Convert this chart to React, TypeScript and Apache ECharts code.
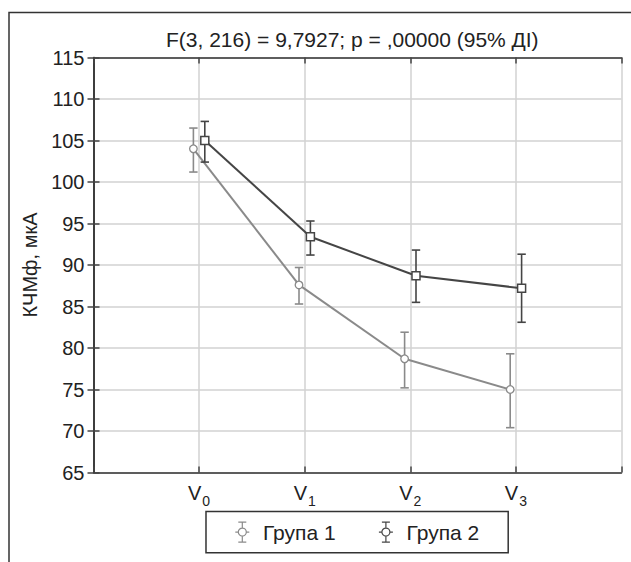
import React, { useEffect, useRef } from "react";
import * as echarts from "echarts";

// ---- data ----
const stages = ["0", "1", "2", "3"]; // subscripts of V
const groupNames = ["Група 1", "Група 2"];
const g1Mean = [104.0, 87.6, 78.7, 75.0];
const g1Low = [101.2, 85.3, 75.2, 70.4];
const g1High = [106.5, 89.7, 81.9, 79.3];
const g2Mean = [105.0, 93.4, 88.7, 87.2];
const g2Low = [102.4, 91.2, 85.5, 83.1];
const g2High = [107.3, 95.3, 91.8, 91.3];
const yTicks = { min: 65, max: 115, step: 5 };
const titleText = "F(3, 216) = 9,7927; p = ,00000 (95% ДІ)";
const yName = "КЧМф, мкА";

const C1 = "#8a8a8a";
const C2 = "#454545";
const FONT = "'Liberation Sans', Arial, Helvetica, sans-serif";

const iconPath =
  "path://M3,0 H11 M7,0 V6 M11,10 A4,4 0 1,1 3,10 A4,4 0 1,1 11,10 M0,10 H3 M11,10 H14 M7,14 V20 M3,20 H11";

function makeSeries(name: string, mean: number[], low: number[], high: number[], color: string, dx: number, square: boolean) {
  const data = mean.map((m, i) => [i + 1, m, low[i], high[i]]);
  return {
    type: "custom",
    name,
    itemStyle: { color },
    clip: false,
    data,
    encode: { x: 0, y: [1, 2, 3] },
    renderItem: (params: any, api: any) => {
      const idx = params.dataIndex;
      const x = api.value(0);
      const m = api.value(1);
      const p = api.coord([x, m]);
      const pl = api.coord([x, api.value(2)]);
      const ph = api.coord([x, api.value(3)]);
      const cx = p[0] + dx;
      const children: any[] = [];
      if (idx + 1 < mean.length) {
        const q = api.coord([x + 1, mean[idx + 1]]);
        children.push({
          type: "line",
          shape: { x1: cx, y1: p[1], x2: q[0] + dx, y2: q[1] },
          style: { stroke: color, lineWidth: 2 },
        });
      }
      const cap = 4.2;
      children.push({
        type: "line",
        shape: { x1: cx, y1: ph[1], x2: cx, y2: pl[1] },
        style: { stroke: color, lineWidth: 1.6 },
      });
      children.push({
        type: "line",
        shape: { x1: cx - cap, y1: ph[1], x2: cx + cap, y2: ph[1] },
        style: { stroke: color, lineWidth: 1.6 },
      });
      children.push({
        type: "line",
        shape: { x1: cx - cap, y1: pl[1], x2: cx + cap, y2: pl[1] },
        style: { stroke: color, lineWidth: 1.6 },
      });
      if (square) {
        children.push({
          type: "rect",
          shape: { x: cx - 4, y: p[1] - 4, width: 8, height: 8 },
          style: { fill: "#fff", stroke: color, lineWidth: 1.5 },
        });
      } else {
        children.push({
          type: "circle",
          shape: { cx, cy: p[1], r: 3.8 },
          style: { fill: "#fff", stroke: color, lineWidth: 1.3 },
        });
      }
      return { type: "group", children };
    },
  };
}

export default function App() {
  const ref = useRef<HTMLDivElement>(null);
  useEffect(() => {
    if (!ref.current) return;
    const chart = echarts.init(ref.current, undefined, { renderer: "svg" });
    const axisLine = { show: true, lineStyle: { color: "#333", width: 1.5 } };
    const tick = { show: true, inside: true, length: 6, lineStyle: { color: "#444", width: 1.5 } };
    const split = { show: true, lineStyle: { color: "#d2d2d2", width: 1.5 } };
    chart.setOption({
      animation: false,
      backgroundColor: "#fff",
      textStyle: { fontFamily: FONT },
      title: {
        text: titleText,
        left: 166,
        top: 29,
        padding: 0,
        textStyle: { fontFamily: FONT, fontSize: 21, fontWeight: "normal", color: "#222" },
      },
      graphic: [
        {
          type: "polyline",
          shape: { points: [[9, 562], [9, 12.5], [631, 12.5]] },
          style: { stroke: "#333", lineWidth: 1.5, fill: "none" },
          silent: true,
        },
      ],
      grid: { left: 93.5, top: 57.5, right: 9.5, bottom: 89.5, show: false },
      legend: {
        left: 206,
        top: 511.5,
        orient: "horizontal",
        borderColor: "#333",
        borderWidth: 1.5,
        padding: [10, 29, 10, 28.7],
        itemGap: 42.7,
        itemWidth: 14,
        itemHeight: 20,
        textStyle: { fontFamily: FONT, fontSize: 21, color: "#222", padding: [0, 0, 0, 8.6] },
        data: [
          { name: groupNames[0], icon: iconPath, itemStyle: { color: "#fff", borderColor: C1, borderWidth: 1.2 } },
          { name: groupNames[1], icon: iconPath, itemStyle: { color: "#fff", borderColor: C2, borderWidth: 1.2 } },
        ],
      },
      xAxis: [
        {
          type: "value",
          min: 0,
          max: stages.length + 1,
          interval: 1,
          axisLine,
          axisTick: tick,
          splitLine: split,
          axisLabel: {
            margin: 10,
            formatter: (v: number) => {
              const i = Math.round(v) - 1;
              return i >= 0 && i < stages.length ? `{v|V}{s|${stages[i]}}` : "";
            },
            rich: {
              v: { fontFamily: FONT, fontSize: 20, color: "#222", verticalAlign: "bottom" },
              s: { fontFamily: FONT, fontSize: 14, color: "#222", verticalAlign: "bottom", padding: [0, 0, -5, 1] },
            },
          },
        },
        {
          type: "value",
          position: "top",
          min: 0,
          max: stages.length + 1,
          interval: 1,
          axisLine,
          axisTick: tick,
          splitLine: { show: false },
          axisLabel: { show: false },
        },
      ],
      yAxis: [
        {
          type: "value",
          min: yTicks.min,
          max: yTicks.max,
          interval: yTicks.step,
          axisLine,
          axisTick: tick,
          splitLine: split,
          name: yName,
          nameLocation: "middle",
          nameGap: 48,
          nameTextStyle: { fontFamily: FONT, fontSize: 20, color: "#222" },
          axisLabel: { fontFamily: FONT, fontSize: 20, color: "#222", margin: 9 },
        },
        {
          type: "value",
          position: "right",
          min: yTicks.min,
          max: yTicks.max,
          interval: yTicks.step,
          axisLine,
          axisTick: tick,
          splitLine: { show: false },
          axisLabel: { show: false },
        },
      ],
      series: [
        makeSeries(groupNames[0], g1Mean, g1Low, g1High, C1, -5.7, false),
        makeSeries(groupNames[1], g2Mean, g2Low, g2High, C2, 5.7, true),
      ],
    });
    return () => chart.dispose();
  }, []);
  return (
    <div
      ref={ref}
      style={{ position: "fixed", left: 0, top: 0, width: 631, height: 562, background: "#fff" }}
    />
  );
}
